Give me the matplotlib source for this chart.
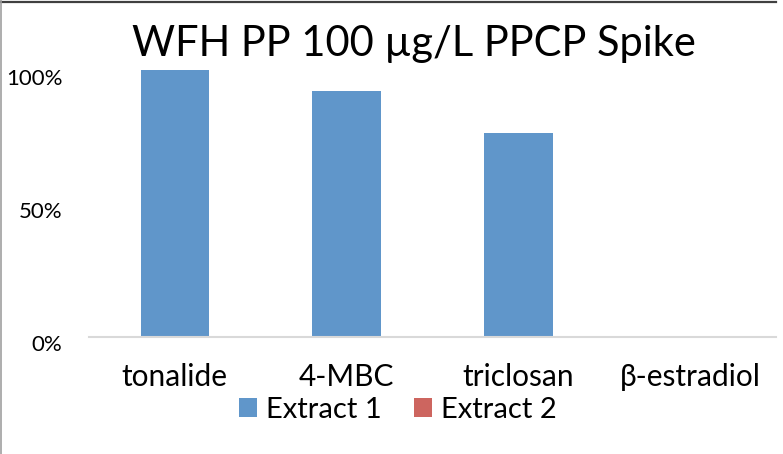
import matplotlib
matplotlib.use("Agg")
import matplotlib.pyplot as plt
import matplotlib.transforms as mtransforms
from matplotlib.lines import Line2D
import numpy as np

plt.rcParams["font.family"] = ["Lato", "DejaVu Sans"]

categories = ["tonalide", "4-MBC", "triclosan", "\u03b2-estradiol"]
extract_1 = [1.00, 0.924, 0.764, 0.0]
extract_2 = [0.0, 0.0, 0.0, 0.0]
series_names = ["Extract 1", "Extract 2"]
y_ticks = [0.0, 0.5, 1.0]
y_tick_labels = ["0%", "50%", "100%"]
title = "WFH PP 100 \u00b5g/L PPCP Spike"

blue = "#6096ca"
red = "#cd655f"

W, H = 783, 454
fig = plt.figure(figsize=(W / 100, H / 100), dpi=100)
ax = fig.add_axes([89 / W, 1 - 337 / H, 687 / W, 266.7 / H])

x = np.arange(len(categories))
ax.bar(x, extract_1, width=0.4, color=blue, label=series_names[0], zorder=2)
ax.bar(x, extract_2, width=0.4, color=red, label=series_names[1], zorder=1)

ax.set_xlim(-0.5, len(categories) - 0.5)
ax.set_ylim(0, 1.0)
for s in ["top", "right", "left"]:
    ax.spines[s].set_visible(False)
ax.spines["bottom"].set_color("#d9d9d9")
ax.spines["bottom"].set_linewidth(1.5)
ax.tick_params(length=0)

ax.set_xticks(x)
ax.set_xticklabels(categories, fontsize=21.5)
ax.tick_params(axis="x", pad=19)
ax.set_yticks(y_ticks)
ax.set_yticklabels(y_tick_labels, fontsize=16)
ax.tick_params(axis="y", pad=19)
# excel draws the value labels a little below their gridline
for lab in ax.get_yticklabels():
    lab.set_transform(lab.get_transform() + mtransforms.ScaledTranslation(0, -4.5 / 72, fig.dpi_scale_trans))

fig.text(414 / W, 1 - 44 / H, title, fontsize=30, ha="center", va="center")

fig.legend(loc="center", bbox_to_anchor=(398 / W, 1 - 410 / H), ncol=2, frameon=False,
           fontsize=21, handlelength=0.62, handleheight=0.62, handletextpad=0.3,
           columnspacing=1.1, borderaxespad=0, borderpad=0)

# chart frame edges
fig.add_artist(Line2D([0, 776 / W], [1 - 2 / H, 1 - 2 / H], color="#404040", lw=1.6, transform=fig.transFigure))
fig.add_artist(Line2D([0.6 / W, 0.6 / W], [0, 1], color="#a0a0a0", lw=1.2, transform=fig.transFigure))

fig.savefig("out.png", dpi=100)
